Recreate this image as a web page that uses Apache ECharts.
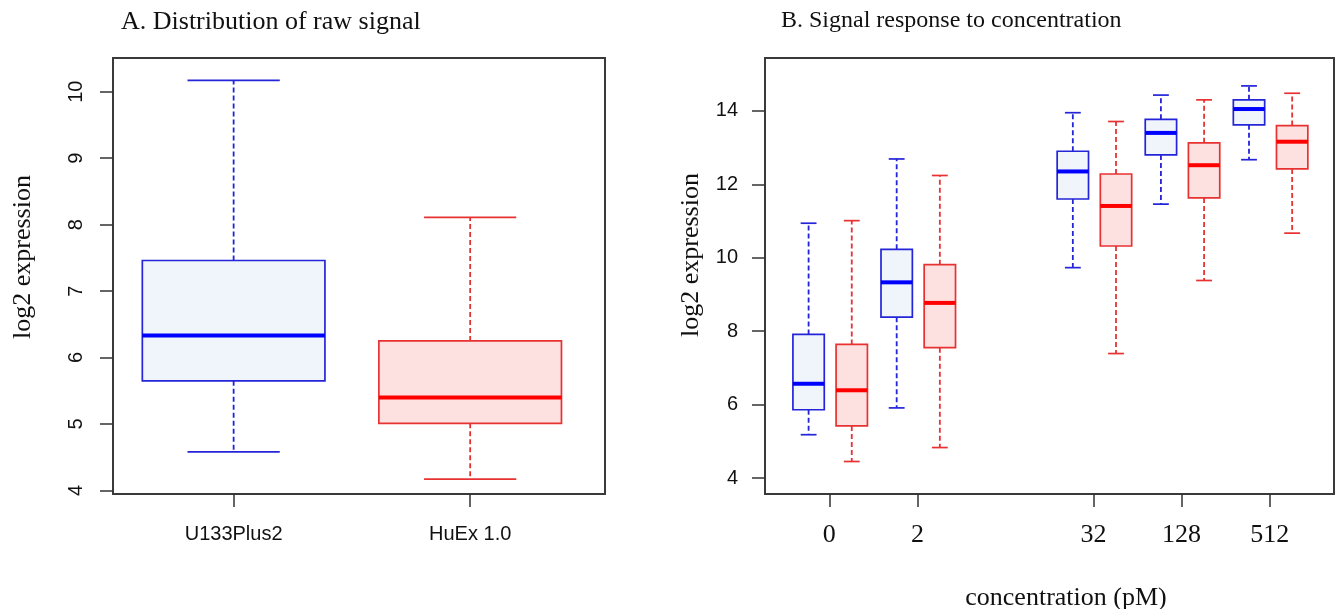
<!DOCTYPE html>
<html lang="en">
<head>
<meta charset="UTF-8">
<title>Raw signal and concentration response</title>
<script src="https://cdn.jsdelivr.net/npm/echarts@6/dist/echarts.min.js"></script>
<style>
  html, body { margin: 0; padding: 0; background: #fff; }
  #main { width: 1336px; height: 609px; }
</style>
</head>
<body>
<div id="main"></div>
<script>
// ---- panel A: raw signal per platform ----
// each box: [lower whisker, Q1, median, Q3, upper whisker]
var platforms = ['U133Plus2', 'HuEx 1.0'];
var rawU133 = [4.58, 5.65, 6.33, 7.46, 10.17];
var rawHuEx = [4.17, 5.01, 5.40, 6.25, 8.11];

// ---- panel B: response to concentration ----
var concLabels = ['0', '2', '32', '128', '512'];
var concPos = [1, 2, 4, 5, 6];
var u133Conc = [
  [5.18, 5.86, 6.57, 7.91, 10.94],
  [5.91, 8.38, 9.33, 10.23, 12.69],
  [9.73, 11.60, 12.35, 12.90, 13.95],
  [11.46, 12.80, 13.40, 13.77, 14.43],
  [12.67, 13.62, 14.05, 14.30, 14.68]
];
var huexConc = [
  [4.45, 5.42, 6.39, 7.64, 11.01],
  [4.83, 7.55, 8.77, 9.81, 12.24],
  [7.39, 10.32, 11.41, 12.28, 13.71],
  [9.38, 11.63, 12.52, 13.13, 14.30],
  [10.67, 12.42, 13.16, 13.60, 14.48]
];

var BLUE = '#2424d8', BLUE_MED = '#0000ff', BLUE_FILL = '#f0f5fb';
var RED = '#e83232', RED_MED = '#ff0000', RED_FILL = '#fde0e0';
var SERIF = '"Liberation Serif", "DejaVu Serif", serif';
var SANS = '"Liberation Sans", Arial, sans-serif';

// R-style box: dashed whiskers, solid staples, filled box, thick median
function boxItem(halfW, capHalf, stroke, fill, medCol) {
  return function (params, api) {
    var x = api.value(0);
    var y = function (i) { return api.coord([x, api.value(i)])[1]; };
    var cx = api.coord([x, 0])[0];
    var l = api.coord([x - halfW, 0])[0], r = api.coord([x + halfW, 0])[0];
    var cl = api.coord([x - capHalf, 0])[0], cr = api.coord([x + capHalf, 0])[0];
    var lo = y(1), q1 = y(2), md = y(3), q3 = y(4), hi = y(5);
    var dash = { stroke: stroke, lineWidth: 1.8, lineDash: [5, 3] };
    var solid = { stroke: stroke, lineWidth: 1.7 };
    return {
      type: 'group',
      children: [
        { type: 'line', shape: { x1: cx, y1: q3, x2: cx, y2: hi }, style: dash },
        { type: 'line', shape: { x1: cx, y1: q1, x2: cx, y2: lo }, style: dash },
        { type: 'line', shape: { x1: cl, y1: hi, x2: cr, y2: hi }, style: solid },
        { type: 'line', shape: { x1: cl, y1: lo, x2: cr, y2: lo }, style: solid },
        { type: 'rect', shape: { x: l, y: q3, width: r - l, height: q1 - q3 },
          style: { fill: fill, stroke: stroke, lineWidth: 1.7 } },
        { type: 'line', shape: { x1: l, y1: md, x2: r, y2: md }, style: { stroke: medCol, lineWidth: 4 } }
      ]
    };
  };
}

function frameGrid(left, width) {
  return { left: left, top: 58, width: width, height: 436, show: true,
           borderColor: '#3a3a3a', borderWidth: 2, backgroundColor: 'transparent',
           outerBoundsMode: 'none' };
}
var tickStyle = { color: '#333', width: 1.5 };

var chart = echarts.init(document.getElementById('main'));

var option = {
  animation: false,
  title: [
    { text: 'A. Distribution of raw signal', left: 121, top: 9, padding: 0,
      textStyle: { fontFamily: SERIF, fontSize: 26, fontWeight: 'normal', color: '#111' } },
    { text: 'B. Signal response to concentration', left: 781, top: 9, padding: 0,
      textStyle: { fontFamily: SERIF, fontSize: 24, fontWeight: 'normal', color: '#111' } }
  ],
  grid: [frameGrid(113, 492), frameGrid(765, 569)],
  xAxis: [
    { gridIndex: 0, type: 'value', min: 0.49, max: 2.57,
      splitLine: { show: false }, axisLine: { show: false },
      axisTick: { show: true, length: 13, customValues: [1, 2], lineStyle: tickStyle },
      axisLabel: { customValues: [1, 2], margin: 30, fontFamily: SANS, fontSize: 20, color: '#111',
        formatter: function (v) { return platforms[Math.round(v) - 1]; } } },
    { gridIndex: 1, type: 'value', min: 0.27, max: 6.73,
      splitLine: { show: false }, axisLine: { show: false },
      axisTick: { show: true, length: 13, customValues: concPos, lineStyle: tickStyle },
      axisLabel: { customValues: concPos, margin: 28, fontFamily: SERIF, fontSize: 26, color: '#111',
        formatter: function (v) { return concLabels[concPos.indexOf(Math.round(v))]; } } }
  ],
  yAxis: [
    { gridIndex: 0, type: 'value', min: 3.947, max: 10.507,
      splitLine: { show: false }, axisLine: { show: false },
      axisTick: { show: true, length: 13, customValues: [4, 5, 6, 7, 8, 9, 10], lineStyle: tickStyle },
      axisLabel: { customValues: [4, 5, 6, 7, 8, 9, 10], rotate: 90, margin: 27,
        fontFamily: SANS, fontSize: 20, color: '#111' } },
    { gridIndex: 1, type: 'value', min: 3.565, max: 15.44,
      splitLine: { show: false }, axisLine: { show: false },
      axisTick: { show: true, length: 13, customValues: [4, 6, 8, 10, 12, 14], lineStyle: tickStyle },
      axisLabel: { customValues: [4, 6, 8, 10, 12, 14], margin: 27,
        fontFamily: SANS, fontSize: 20, color: '#111' } }
  ],
  series: [
    { type: 'custom', xAxisIndex: 0, yAxisIndex: 0, renderItem: boxItem(0.386, 0.195, BLUE, BLUE_FILL, BLUE_MED),
      encode: { x: 0, y: [1, 2, 3, 4, 5] }, data: [[1].concat(rawU133)] },
    { type: 'custom', xAxisIndex: 0, yAxisIndex: 0, renderItem: boxItem(0.386, 0.195, RED, RED_FILL, RED_MED),
      encode: { x: 0, y: [1, 2, 3, 4, 5] }, data: [[2].concat(rawHuEx)] },
    { type: 'custom', xAxisIndex: 1, yAxisIndex: 1, renderItem: boxItem(0.178, 0.09, BLUE, BLUE_FILL, BLUE_MED),
      encode: { x: 0, y: [1, 2, 3, 4, 5] },
      data: concPos.map(function (p, i) { return [p - 0.235].concat(u133Conc[i]); }) },
    { type: 'custom', xAxisIndex: 1, yAxisIndex: 1, renderItem: boxItem(0.178, 0.09, RED, RED_FILL, RED_MED),
      encode: { x: 0, y: [1, 2, 3, 4, 5] },
      data: concPos.map(function (p, i) { return [p + 0.255].concat(huexConc[i]); }) }
  ],
  graphic: [
    { type: 'text', x: 23, y: 257, rotation: Math.PI / 2,
      style: { text: 'log2 expression', font: '26px ' + SERIF, fill: '#111', align: 'center', verticalAlign: 'middle' } },
    { type: 'text', x: 691, y: 255, rotation: Math.PI / 2,
      style: { text: 'log2 expression', font: '26px ' + SERIF, fill: '#111', align: 'center', verticalAlign: 'middle' } },
    { type: 'text', x: 1066, y: 598,
      style: { text: 'concentration (pM)', font: '26px ' + SERIF, fill: '#111', align: 'center', verticalAlign: 'middle' } }
  ]
};

chart.setOption(option);
</script>
</body>
</html>
